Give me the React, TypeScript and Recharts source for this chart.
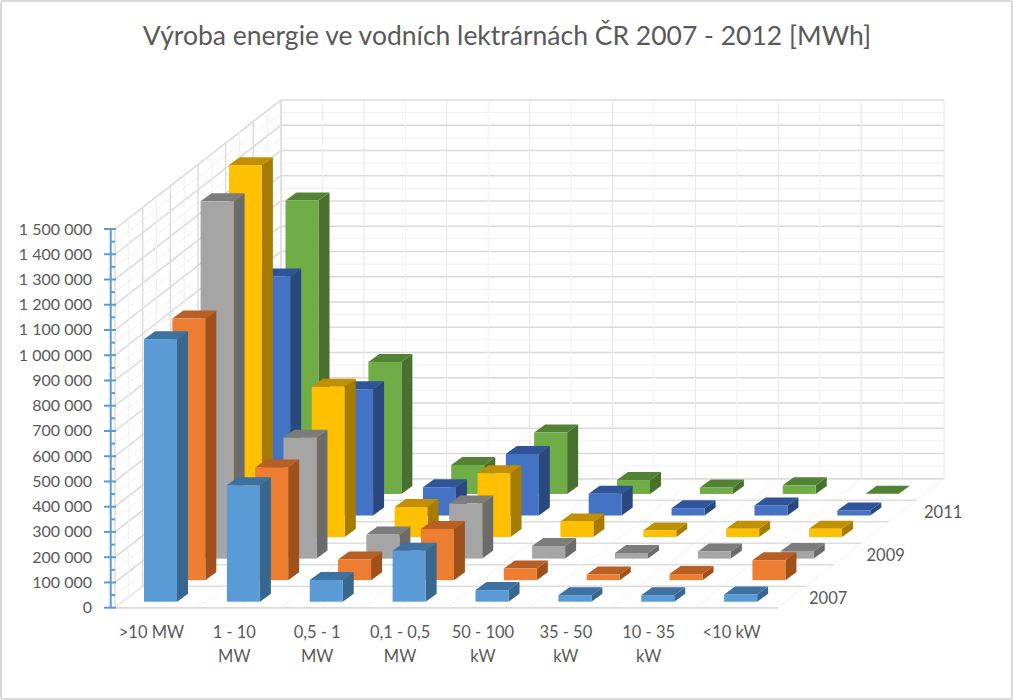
import { BarChart, Bar, XAxis, YAxis, CartesianGrid } from "recharts";

const categories = [">10 MW", "1 - 10 MW", "0,5 - 1 MW", "0,1 - 0,5 MW", "50 - 100 kW", "35 - 50 kW", "10 - 35 kW", "<10 kW"];
const categoryLines = [[">10 MW"], ["1 - 10", "MW"], ["0,5 - 1", "MW"], ["0,1 - 0,5", "MW"], ["50 - 100", "kW"], ["35 - 50", "kW"], ["10 - 35", "kW"], ["<10 kW"]];
const years = ["2007", "2008", "2009", "2010", "2011", "2012"];
const depthLabels = ["2007", "2009", "2011"];

const v2007 = [1040000, 461000, 86000, 202000, 46000, 26000, 26000, 29000];
const v2008 = [1036000, 446000, 82000, 203000, 46000, 22000, 24000, 79000];
const v2009 = [1415000, 479000, 95000, 218000, 50000, 22000, 28000, 30000];
const v2010 = [1473000, 595000, 119000, 253000, 62000, 26000, 33000, 33000];
const v2011 = [947000, 500000, 112000, 244000, 86000, 29000, 40000, 20000];
const v2012 = [1162000, 523000, 115000, 243000, 55000, 26000, 34000, 1000];
const seriesValues = [v2007, v2008, v2009, v2010, v2011, v2012];

const yTicks: number[] = [];
for (let t = 0; t <= 1500000; t += 50000) yTicks.push(t);

// front, side, top
const seriesColors = [
  ["#5B9BD5", "#37678F", "#3D71A0"],
  ["#ED7D31", "#A0501B", "#B85F23"],
  ["#A5A5A5", "#6B6B6B", "#7C7C7C"],
  ["#FFC000", "#A67C00", "#C09000"],
  ["#4472C4", "#2A4880", "#2F5497"],
  ["#70AD47", "#48702E", "#548235"],
];

const data = categories.map((name, i) => {
  const row: any = { name };
  years.forEach((y, s) => (row[y] = seriesValues[s][i]));
  return row;
});

const FONT = "Lato, 'Open Sans', sans-serif";
const TEXT = "#595959";
const LEFT = 115;
const RIGHT = 778;
const TOP = 229;
const BOTTOM = 607.7;
const WALL_DX = 166;
const WALL_DY = 129;
const BAND = (RIGHT - LEFT) / categories.length;

const fmt = (v: number) => String(v).replace(/\B(?=(\d{3})+$)/g, "\u00a0");

function Bar3D(props: any) {
  const { x, y, width, height, s } = props;
  const [front, side, top] = seriesColors[s];
  const dx = 11;
  const dy = 8;
  const l = x + 4 + 28.3 * s;
  const t = y - 6 - 21.55 * s;
  const r = l + width;
  const b = t + height;
  return (
    <g>
      <polygon points={`${r},${t} ${r + dx},${t - dy} ${r + dx},${b - dy} ${r},${b}`} fill={side} />
      <polygon points={`${l},${t} ${l + dx},${t - dy} ${r + dx},${t - dy} ${r},${t}`} fill={top} />
      <rect x={l} y={t} width={width} height={height} fill={front} />
    </g>
  );
}

function YTick(props: any) {
  const { y, payload } = props;
  const major = payload.value % 100000 === 0;
  const seg = (BOTTOM - TOP) / 30;
  return (
    <g>
      {payload.value < 1500000 && <line x1={110.7} x2={110.7} y1={y} y2={y - seg} stroke="#5B9BD5" strokeWidth={2} />}
      <line x1={major ? 104 : 110.7} x2={major ? 116 : 115} y1={y} y2={y} stroke="#5B9BD5" strokeWidth={2} />
      {major && (
        <text x={92} y={y + 5.5} textAnchor="end" fontFamily={FONT} fontSize={16} fill={TEXT}>
          {payload.value === 0 ? "0" : fmt(payload.value)}
        </text>
      )}
    </g>
  );
}

function XTick(props: any) {
  const { x, index } = props;
  return (
    <text textAnchor="middle" fontFamily={FONT} fontSize={16.5} fill={TEXT}>
      {categoryLines[index].map((line, i) => (
        <tspan key={i} x={x - 5} y={638 + i * 23.5}>
          {line}
        </tspan>
      ))}
    </text>
  );
}

function WallLine(props: any) {
  const { x1, x2, y1, index } = props;
  const major = index % 2 === 0;
  return (
    <path
      key={index}
      d={`M${x1},${y1} L${x1 + WALL_DX},${y1 - WALL_DY} L${x2 + WALL_DX},${y1 - WALL_DY}`}
      fill="none"
      stroke={major ? "#D9D9D9" : "#EFEFEF"}
      strokeWidth={major ? 1.5 : 1}
    />
  );
}

function Floor() {
  const lines = [];
  // lines running front to back across the floor, then up the back wall
  for (let i = 0; i <= categories.length * 2; i++) {
    const x = LEFT + (i * BAND) / 2;
    lines.push(
      <path key={"f" + i} d={`M${x},${BOTTOM} L${x + WALL_DX},${BOTTOM - WALL_DY}`} fill="none" stroke="#F0F0F0" strokeWidth={1} />,
      <path
        key={"c" + i}
        d={`M${x + WALL_DX},${BOTTOM - WALL_DY} L${x + WALL_DX},${TOP - WALL_DY}`}
        fill="none"
        stroke={i % 2 === 0 ? "#E6E6E6" : "#F1F1F1"}
        strokeWidth={1}
      />
    );
  }
  // lines running along the floor, then up the side wall
  for (let k = 0; k <= years.length * 2; k++) {
    const dx = (k * WALL_DX) / (years.length * 2);
    const dy = (k * WALL_DY) / (years.length * 2);
    const major = k % 2 === 0;
    lines.push(
      <path
        key={"s" + k}
        d={`M${LEFT + dx},${TOP - dy} L${LEFT + dx},${BOTTOM - dy}${major ? ` L${RIGHT + dx},${BOTTOM - dy}` : ""}`}
        fill="none"
        stroke={major ? "#DDDDDD" : "#EFEFEF"}
        strokeWidth={major ? 1.5 : 1}
      />
    );
  }
  return <g>{lines}</g>;
}

export default function App() {
  return (
    <div
      style={{
        position: "absolute",
        left: 0,
        top: 0,
        width: 1013,
        height: 700,
        boxSizing: "border-box",
        background: "#fff",
      }}
    >
      <div style={{ position: "absolute", inset: 0, border: "2px solid #D9D9D9", borderRadius: 3 }} />
      <BarChart
        width={1013}
        height={700}
        data={data}
        barSize={33}
        barGap={-33}
        margin={{ top: TOP, bottom: 0, left: 0, right: 1013 - RIGHT }}
      >
        <CartesianGrid vertical={false} horizontal={WallLine as any} horizontalValues={yTicks} />
        <Floor />
        <XAxis dataKey="name" interval={0} height={700 - BOTTOM} tick={<XTick />} tickLine={false} axisLine={{ stroke: "#D9D9D9", strokeWidth: 1.5 }} />
        <YAxis
          width={LEFT}
          domain={[0, 1500000]}
          ticks={yTicks}
          interval={0}
          tick={<YTick />}
          tickLine={false}
          axisLine={false}
        />
        {[...years].reverse().map((y) => {
          const s = years.indexOf(y);
          return <Bar key={y} dataKey={y} isAnimationActive={false} shape={(p: any) => <Bar3D {...p} s={s} />} />;
        })}
        <text x={507} y={45} textAnchor="middle" fontFamily={FONT} fontSize={26.5} fill={TEXT}>
          Výroba energie ve vodních lektrárnách ČR 2007 - 2012 [MWh]
        </text>
        {depthLabels.map((label, i) => (
          <text key={label} x={809 + i * 57.5} y={604 - i * 43.2} fontFamily={FONT} fontSize={16.5} fill={TEXT}>
            {label}
          </text>
        ))}
      </BarChart>
    </div>
  );
}
